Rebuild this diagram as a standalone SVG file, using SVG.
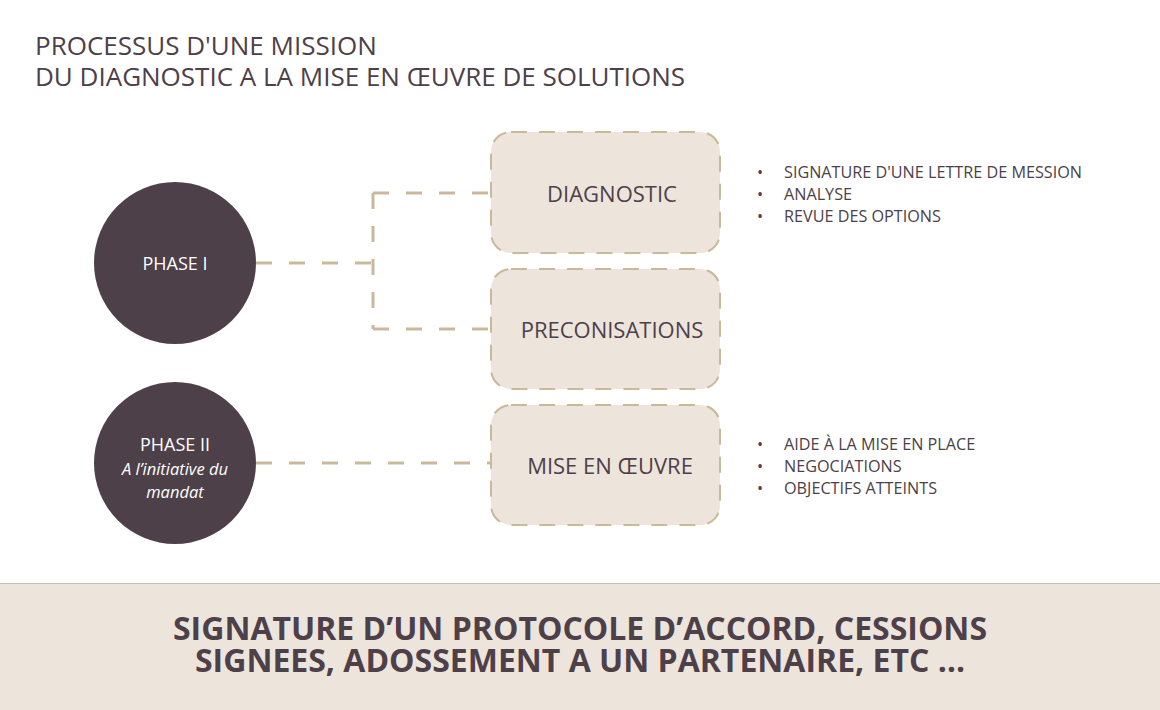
<svg xmlns="http://www.w3.org/2000/svg" width="1160" height="710" viewBox="0 0 1160 710">
<style>
text{font-family:"Open Sans","Noto Sans","Liberation Sans",sans-serif;fill:#4e4049}
.title{font-size:26px}
.box{fill:#ede5dc;stroke:#c9b99a;stroke-width:2;stroke-dasharray:16 12}
.boxt{font-size:22px;text-anchor:middle}
.circ{fill:#4e4049}
.ct{fill:#ffffff;font-size:18px;text-anchor:middle}
.cti{fill:#ffffff;font-size:16.5px;text-anchor:middle;font-style:italic}
.li{font-size:16.2px}
.conn{fill:none;stroke:#c9b99a;stroke-width:3;stroke-dasharray:16 17}
.foot{font-size:32px;font-weight:bold;text-anchor:middle}
</style>
<rect width="1160" height="710" fill="#ffffff"/>
<g id="title">
<text class="title" x="35" y="55">PROCESSUS D'UNE MISSION</text>
<text class="title" x="35" y="86">DU DIAGNOSTIC A LA MISE EN ŒUVRE DE SOLUTIONS</text>
</g>
<g id="connectors">
<path class="conn" d="M256 263 H373"/>
<path class="conn" d="M373 193 V329"/>
<path class="conn" d="M373 193 H491"/>
<path class="conn" d="M373 329 H491"/>
<path class="conn" d="M256 463 H491"/>
</g>
<g id="phase1">
<circle class="circ" cx="175" cy="263" r="81"/>
<text class="ct" x="175" y="270">PHASE I</text>
</g>
<g id="phase2">
<circle class="circ" cx="175" cy="463" r="81"/>
<text class="ct" x="175" y="451">PHASE II</text>
<text class="cti" x="175" y="475">A l’initiative du</text>
<text class="cti" x="175" y="498">mandat</text>
</g>
<g id="diagnostic">
<rect class="box" x="491" y="132" width="229" height="121" rx="20"/>
<text class="boxt" x="612" y="202">DIAGNOSTIC</text>
</g>
<g id="preconisations">
<rect class="box" x="491" y="269" width="229" height="120" rx="20"/>
<text class="boxt" x="612" y="338">PRECONISATIONS</text>
</g>
<g id="mise">
<rect class="box" x="491" y="405" width="229" height="120" rx="20"/>
<text class="boxt" x="610" y="474">MISE EN ŒUVRE</text>
</g>
<g id="list1">
<text class="li" x="757" y="178">•</text><text class="li" x="784" y="178">SIGNATURE D'UNE LETTRE DE MESSION</text>
<text class="li" x="757" y="200">•</text><text class="li" x="784" y="200">ANALYSE</text>
<text class="li" x="757" y="222">•</text><text class="li" x="784" y="222">REVUE DES OPTIONS</text>
</g>
<g id="list2">
<text class="li" x="757" y="450">•</text><text class="li" x="784" y="450">AIDE À LA MISE EN PLACE</text>
<text class="li" x="757" y="472">•</text><text class="li" x="784" y="472">NEGOCIATIONS</text>
<text class="li" x="757" y="494">•</text><text class="li" x="784" y="494">OBJECTIFS ATTEINTS</text>
</g>
<g id="footer">
<rect x="0" y="583" width="1160" height="127" fill="#ede5dc"/>
<line x1="0" y1="583.5" x2="1160" y2="583.5" stroke="#c9bfb0" stroke-width="1"/>
<text class="foot" x="580" y="640" textLength="814" lengthAdjust="spacingAndGlyphs">SIGNATURE D’UN PROTOCOLE D’ACCORD, CESSIONS</text>
<text class="foot" x="580" y="672" textLength="770" lengthAdjust="spacingAndGlyphs">SIGNEES, ADOSSEMENT A UN PARTENAIRE, ETC …</text>
</g>
</svg>
